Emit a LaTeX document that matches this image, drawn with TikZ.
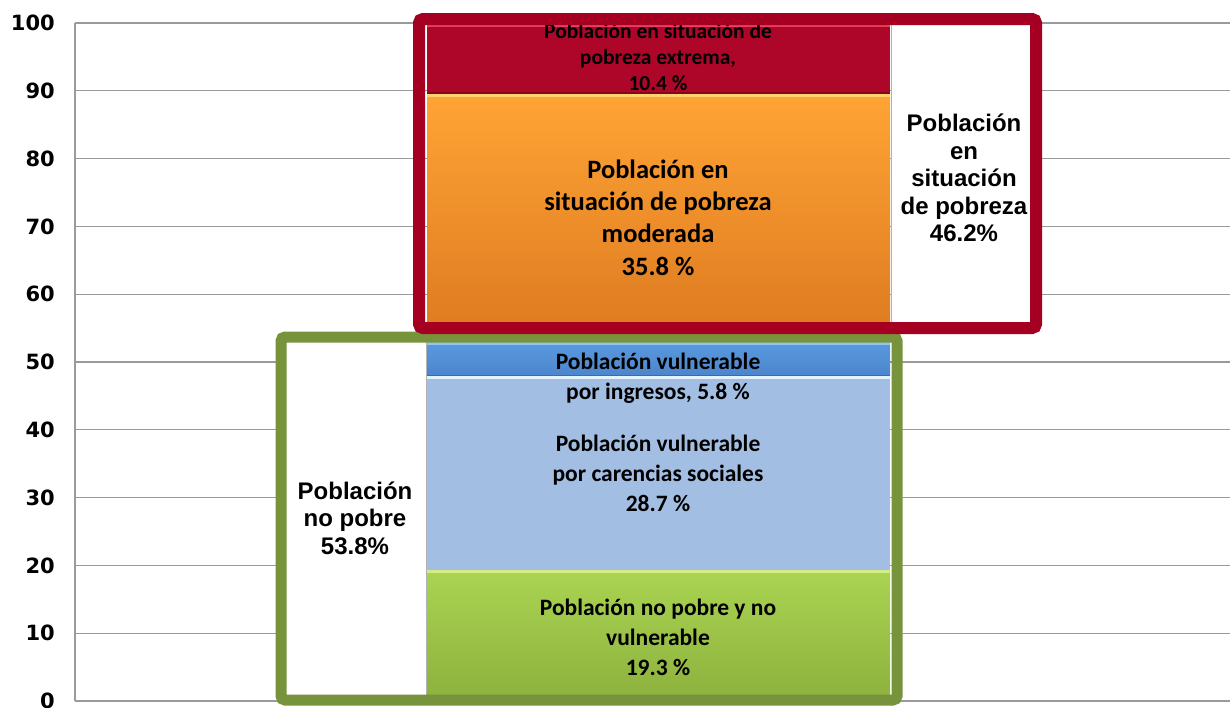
\documentclass[tikz,border=0pt]{standalone}
\usepackage{fontspec}
\setmainfont{Liberation Sans}
\newfontfamily\calfont{Carlito}
\newfontfamily\axfont{DejaVu Sans}
\usetikzlibrary{calc}
\definecolor{gridgray}{HTML}{9A9A9A}
\definecolor{redframe}{HTML}{A50021}
\definecolor{redbar}{HTML}{AE0628}
\definecolor{redtop}{HTML}{E8405C}
\definecolor{orangetop}{HTML}{FFA435}
\definecolor{orangebot}{HTML}{DD7A20}
\definecolor{orangeedge}{HTML}{FFD36E}
\definecolor{bluetop}{HTML}{5C9DE2}
\definecolor{bluebot}{HTML}{4C86CC}
\definecolor{blueedge}{HTML}{92C4F2}
\definecolor{lblue}{HTML}{A3BEE3}
\definecolor{lblueedge}{HTML}{E2F2FF}
\definecolor{greentop}{HTML}{AAD452}
\definecolor{greenbot}{HTML}{8DB13D}
\definecolor{greenedge}{HTML}{D3EE86}
\definecolor{greenframe}{HTML}{77933C}
\begin{document}
\begin{tikzpicture}[x=1pt,y=-1pt,
  gridline/.style={draw=gridgray, line width=1.3pt},
  ylab/.style={anchor=east, inner sep=0pt, font=\axfont\bfseries\fontsize{21}{21}\selectfont},
  barbox/.style={minimum width=463pt, inner sep=0pt, outer sep=0pt, draw=none},
  edge/.style={line width=3pt},
  barlab/.style={align=center, inner sep=0pt, text=black, font=\calfont\bfseries\fontsize{23.5}{30}\selectfont},
  whitebox/.style={fill=white, inner sep=0pt, outer sep=0pt, draw=none},
  boxlab/.style={align=center, inner sep=0pt, text=black, font=\bfseries\fontsize{24}{27.5}\selectfont},
  frame/.style={draw, rounded corners=4pt, inner sep=0pt, fill=none}
]
\useasboundingbox (0,0) rectangle (1230,707);
% grid
\foreach \v in {0,10,...,100}{
  \draw[gridline] (75,{701-6.78*\v}) -- (1230,{701-6.78*\v});
  \node[ylab] (y\v) at (55,{701-6.78*\v}) {\v};
}
\draw[gridline] (75,23) -- (75,701);

% white boxes
\node[whitebox, minimum width=140pt, minimum height=356pt] (nopobrebox) at (356,518) {};
\node[whitebox, minimum width=142pt, minimum height=300pt] (pobrezabox) at (961.5,173) {};

% bars of the lower stack
\node[barbox, top color=greentop, bottom color=greenbot, minimum height=131pt] (green) at (658.5,635.5) {};
\node[barbox, fill=lblue, minimum height=194.5pt] (lblue) at (658.5,472.85) {};
\node[barbox, top color=bluetop, bottom color=bluebot, minimum height=39.4pt] (blue) at (658.5,355.9) {};
\draw[greenedge, edge] ($(green.north west)+(0,1.5)$) -- ($(green.north east)+(0,1.5)$);
\draw[lblueedge, edge] ($(lblue.north west)+(0,1.5)$) -- ($(lblue.north east)+(0,1.5)$);
\draw[blueedge, edge] ($(blue.north west)+(0,7)$) -- ($(blue.north east)+(0,7)$);
\draw[bluebot!80!black, line width=1pt] (blue.south west) -- (blue.south east);

% bars of the upper stack
\node[barbox, fill=redbar, minimum height=70pt] (red) at (658.5,59) {};
\node[barbox, top color=orangetop, bottom color=orangebot, minimum height=242.7pt] (orange) at (658.5,214.85) {};
\draw[redtop, edge] ($(red.north west)+(0,1.5)$) -- ($(red.north east)+(0,1.5)$);
\draw[orangeedge, edge] ($(orange.north west)+(0,1.5)$) -- ($(orange.north east)+(0,1.5)$);
\draw[redbar!75!black, line width=1.5pt] ($(red.south west)+(0,-1)$) -- ($(red.south east)+(0,-1)$);

% shadows at bar sides
\draw[gray!60, line width=1pt] (426,336) -- (426,700);
\draw[gray!60, line width=1pt] (891,24) -- (891,322);

% labels in bars
\begin{scope}
  \clip (red.north west) rectangle (red.south east);
  \node[barlab, font=\calfont\bfseries\fontsize{21.5}{26}\selectfont] (redlab) at (658,57) {Población en situación de\\pobreza extrema,\\10.4 \%};
\end{scope}
\node[barlab, font=\calfont\bfseries\fontsize{26.5}{32.3}\selectfont] (orangelab) at (658,217.5) {Población en\\situación de pobreza\\moderada\\35.8 \%};
\node[barlab] (bluelab) at (658,378) {Población vulnerable\\por ingresos, 5.8 \%};
\node[barlab] (lbluelab) at (658,473) {Población vulnerable\\por carencias sociales\\28.7 \%};
\node[barlab] (greenlab) at (658,637) {Población no pobre y no\\vulnerable\\19.3 \%};

% labels in white boxes
\node[boxlab] (nopobrelab) at (355,518) {Población\\no pobre\\53.8\%};
\node[boxlab] (pobrezalab) at (964,178) {Población\\en\\situación\\de pobreza\\46.2\%};

% frames
\node[frame, draw=greenframe, line width=11pt, minimum width=616pt, minimum height=363pt] (greenfr) at (589,518.5) {};
\node[frame, draw=redframe, line width=12pt, minimum width=617pt, minimum height=309pt] (redfr) at (727.5,173.5) {};
\end{tikzpicture}
\end{document}
